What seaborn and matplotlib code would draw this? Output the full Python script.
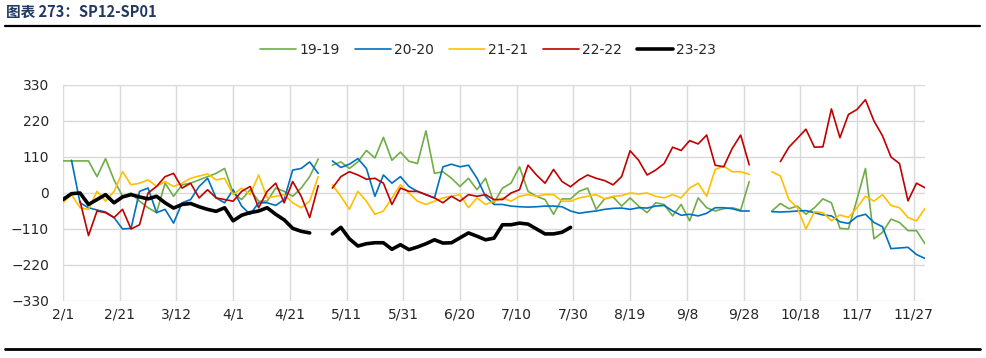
import matplotlib
matplotlib.use("Agg")
import matplotlib.pyplot as plt
from matplotlib.lines import Line2D
import numpy as np
import pandas as pd
import seaborn as sns

nan = np.nan

# trading-day sample grid, three segments split by the May and October holidays
seg_a = pd.date_range("2024-02-01", periods=31, freq="3D")
seg_b = pd.date_range("2024-05-06", periods=50, freq="3D")
seg_c = pd.date_range("2024-10-08", periods=19, freq="3D")

s19_a = [98, 98, 98, 98, 50, 105, 40, -10, 0, -25, -45, -60, 30, -10, 25, 30, 40, 50, 60, 75,
         0, -20, 10, -25, -25, 15, 5, -10, 15, 50, 104]
s19_b = [85, 95, 75, 95, 130, 107, 170, 100, 125, 97, 90, 190, 60, 65, 45, 20, 45, 10, 45, -30,
         15, 30, 80, 5, -10, -20, -65, -18, -18, 5, 15, -50, -18, -12, -40, -15, -40, -60, -30, -35,
         -70, -35, -85, -15, -45, -55, -48, -45, -52, 35]
s19_c = [-55, -32, -48, -40, -65, -45, -18, -30, -108, -110, -20, 75, -140, -120, -80, -90, -115, -115, -155]

s20_a = [nan, 100, -30, -45, -52, -58, -75, -110, -108, 5, 15, -60, -50, -92, -30, -20, 20, 45, -15, -30,
         10, -40, -65, -30, -30, -38, -20, 70, 75, 95, 60]
s20_b = [98, 78, 88, 105, 75, -10, 55, 30, 50, 20, 5, -5, -15, 80, 88, 80, 85, 45, -10, -35,
         -35, -40, -42, -43, -42, -40, -40, -42, -55, -62, -58, -55, -50, -47, -46, -50, -45, -46, -40, -38,
         -55, -68, -65, -70, -62, -45, -45, -48, -55, -55]
s20_c = [-57, -58, -57, -55, -54, -60, -67, -70, -88, -93, -72, -65, -90, -103, -170, -168, -166, -188, -200]

s21_a = [-30, -5, -45, -50, 5, -25, 5, 65, 25, 30, 40, 20, 35, 20, 30, 45, 52, 58, 40, 45,
         -5, 15, -5, 55, -15, -10, -5, -30, -45, -25, 50]
s21_b = [25, -10, -50, 5, -25, -65, -55, -15, 25, 0, -25, -35, -25, -15, -10, -5, -45, -15, -35, -25,
         -15, -25, -10, -5, -10, -5, -5, -25, -25, -15, -10, -5, -18, -10, -8, 0, -3, 0, -10, -15,
         -5, -15, 15, 30, -10, 72, 82, 65, 65, 57]
s21_c = [65, 52, -20, -45, -110, -57, -60, -85, -67, -75, -45, -10, -25, -5, -38, -45, -75, -85, -47]

s22_a = [nan, nan, -25, -130, -55, -60, -75, -50, -110, -97, 0, 20, 50, 60, 15, 30, -15, 10, -15, -20,
         -25, 5, 20, -45, 5, 30, -30, 35, -10, -75, 22]
s22_b = [15, 50, 65, 55, 42, 45, 30, -35, 15, 5, 5, -5, -15, -30, -10, -25, -5, -10, -5, -20,
         -20, 0, 10, 85, 55, 30, 72, 35, 19, 40, 55, 45, 38, 25, 50, 129, 100, 55, 70, 90,
         140, 130, 160, 150, 177, 85, 80, 136, 177, 86]
s22_c = [nan, 96, 140, 167, 195, 140, 141, 257, 169, 240, 255, 285, 220, 175, 110, 90, -24, 30, 16]

s23_a = [-20, -2, 0, -35, -20, -5, -30, -12, -5, -12, -18, -10, -30, -46, -35, -32, -42, -50, -56, -45,
         -85, -68, -60, -55, -45, -65, -82, -108, -117, -122, nan]
s23_b = [-125, -105, -140, -162, -155, -152, -152, -172, -158, -173, -165, -155, -143, -153, -152, -137,
         -122, -132, -143, -138, -97, -97, -92, -95, -110, -125, -125, -120, -105] + [nan] * 21
s23_c = [nan] * 19

names = ["19-19", "20-20", "21-21", "22-22", "23-23"]
colors = ["#70ad47", "#0070c0", "#ffc000", "#c00000", "#000000"]
widths = [1.2, 1.2, 1.2, 1.2, 2.6]

series = {
    "19-19": (s19_a, s19_b, s19_c),
    "20-20": (s20_a, s20_b, s20_c),
    "21-21": (s21_a, s21_b, s21_c),
    "22-22": (s22_a, s22_b, s22_c),
    "23-23": (s23_a, s23_b, s23_c),
}

rows = []
for name, parts in series.items():
    for seg_id, (dates, vals) in enumerate(zip((seg_a, seg_b, seg_c), parts)):
        for d, v in zip(dates, vals):
            rows.append({"date": d, "value": v, "series": name, "seg": seg_id})
df = pd.DataFrame(rows).dropna()

sns.set_theme(style="white")
plt.rcParams["font.family"] = ["DejaVu Sans", "Noto Sans CJK SC"]

fig = plt.figure(figsize=(9.87, 3.58), dpi=100)
ax = fig.add_axes([63 / 987, 1 - 301 / 358, 862 / 987, 216 / 358])

sns.lineplot(
    data=df, x="date", y="value", hue="series", size="series", units="seg",
    estimator=None, hue_order=names, size_order=names,
    palette=dict(zip(names, colors)), sizes=dict(zip(names, widths)), ax=ax,
)

ax.set_xlim(pd.Timestamp("2024-02-01"), pd.Timestamp("2024-12-01"))
ax.set_ylim(-330, 330)
ax.set_yticks(range(-330, 331, 110))
xt = pd.date_range("2024-02-01", periods=16, freq="20D")
ax.set_xticks(xt)
ax.set_xticklabels([f"{d.month}/{d.day}" for d in xt])
ax.set_xlabel("")
ax.set_ylabel("")
ax.grid(True, color="#d9d9d9", linewidth=1.0)
ax.set_axisbelow(True)
for s in ax.spines.values():
    s.set_visible(False)
ax.tick_params(axis="both", length=0, labelsize=10, colors="#262626")
ax.tick_params(axis="y", pad=10)
ax.tick_params(axis="x", pad=5)

sns.move_legend(
    ax, "center", bbox_to_anchor=(0.493, 1.162), ncol=5, frameon=False, title=None,
    handlelength=2.6, columnspacing=1.1, handletextpad=0.2, fontsize=10,
)

fig.text(0.006, 1 - 12 / 358, "图表 273：SP12-SP01", fontsize=10.5, fontweight="bold",
         color="#1f3864", va="center", ha="left", family=["Noto Sans CJK SC", "DejaVu Sans"])
fig.add_artist(Line2D([5 / 987, 980 / 987], [1 - 26 / 358] * 2, color="black", lw=1.6))
fig.add_artist(Line2D([5 / 987, 980 / 987], [1 - 349 / 358] * 2, color="black", lw=2.0))

fig.savefig("out.png", dpi=100)
